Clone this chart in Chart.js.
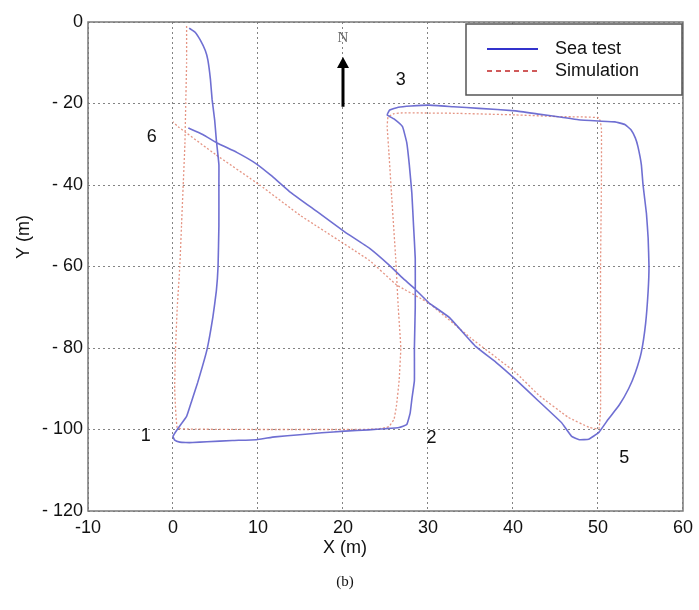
<!DOCTYPE html>
<html>
<head>
<meta charset="utf-8">
<script src="https://cdn.jsdelivr.net/npm/chart.js@4/dist/chart.umd.min.js"></script>
<style>
  body { margin: 0; background: #fff; }
  #wrap { width: 699px; height: 610px; }
</style>
</head>
<body>
<div id="wrap"><canvas id="trackChart" width="699" height="610"></canvas></div>
<script>
// sea test trajectory (m)
const seaX = [1.9, 2.6, 3.2, 3.8, 4.1, 4.4, 4.6, 4.9, 5.1, 5.4, 5.4, 5.4, 5.3, 5.1, 4.7, 4.0, 2.9, 2.2, 1.6, 0.5, 0,
    0.2, 0.8, 1.5, 2.3, 4, 7, 9.8, 12, 14.9, 17.5, 20.2, 23, 25, 26.6, 27.5,
    27.9, 28.1, 28.4, 28.4, 28.5, 28.5, 28.3, 28.1, 27.8, 27.5, 27, 26, 25.2,
    25.5, 26.5, 28, 30.1, 33, 36, 40.3, 43, 45.5, 47.7, 50, 52, 53.2,
    53.9, 54.4, 54.7, 55.1, 55.3, 55.7, 55.9, 56, 55.9, 55.6, 55.1, 54.4, 53.6, 52.5, 51.2, 50.1,
    48.9, 47.8, 46.9, 45.7, 43, 40.3, 38, 35.6, 32.5, 30.1, 28.4, 27, 25.4, 23.1, 20.2, 17, 13.7,
    11.5, 9.8, 7.5, 5.2, 3.5, 1.8];
const seaY = [-1.5, -2.5, -4.4, -7, -9.3, -14, -19, -24, -29, -35, -40, -50, -60, -66, -72.3, -80.4, -88.5, -93, -96.8, -100, -101.7,
    -102.6, -103.1, -103.2, -103.2, -103, -102.7, -102.5, -101.8, -101.3, -100.8, -100.4, -100.1, -99.8, -99.5, -98.8,
    -96, -92.6, -88, -80, -70, -58, -50, -42, -35, -29.6, -25.7, -23.8, -22.8,
    -21.6, -20.9, -20.6, -20.4, -20.8, -21.2, -21.8, -22.6, -23.3, -24, -24.3, -24.5, -25.2,
    -26.5, -28.5, -30.6, -35, -40, -47, -53, -60, -66, -74, -81, -86, -90, -94, -97.5, -100.7,
    -102.4, -102.5, -101.7, -98.3, -93, -87.7, -83.5, -79.6, -72.5, -68.9, -65.4, -62.8, -59.6, -55.5, -51.5, -46.6, -41.6,
    -37.6, -34.8, -32, -29.7, -27.6, -26];

// simulated trajectory (m)
const simX = [1.6, 1.6, 1.5, 1.4, 1.2, 1.0, 0.8, 0.5, 0.3, 0.2, 0.5, 2, 10, 20, 24, 25.4,
    26, 26.3, 26.6, 26.8, 26.5, 26.2, 25.7, 25.4, 25.2, 25.3, 26, 27, 33, 40.3, 45, 50.1,
    50.4, 50.4, 50.3, 50.3, 50.3, 50.1, 49, 46.5, 43, 40.3, 35, 30.1, 26.3, 23.1, 15, 10.2, 5, 0.6, 0];
const simY = [-1, -10, -20, -30, -40, -50, -60, -70, -80, -90, -99.6, -99.9, -100, -100, -99.9, -99.3,
    -97.5, -94, -88, -80, -70, -58, -42, -32, -25.7, -23.3, -22.5, -22.3, -22.4, -22.8, -23.2, -23.5,
    -26, -40, -60, -80, -95, -99.8, -99.5, -97, -91.5, -86, -77.5, -69, -64.5, -58.5, -47.5, -40, -32.5, -25.7, -24.5];

const seriesNames = ['Sea test', 'Simulation'];
const xTicks = [-10, 0, 10, 20, 30, 40, 50, 60];
const yTicks = [0, -20, -40, -60, -80, -100, -120];

// waypoint numbers, in data units
const waypointText = ['1', '2', '3', '4', '5', '6'];
const waypointX = [-3.2, 30.4, 26.8, 55.1, 53.1, -2.5];
const waypointY = [-101.5, -102, -14.2, -14.7, -107.1, -28.2];

function toPoints(xs, ys) {
    return xs.map((x, i) => ({ x: x, y: ys[i] }));
}

const FONT = '"Liberation Sans", Arial, sans-serif';

const decorPlugin = {
    id: 'decor',
    afterDraw(chart) {
        const ctx = chart.ctx;
        const area = chart.chartArea;
        const xs = chart.scales.x;
        const ys = chart.scales.y;
        ctx.save();

        // box round the axes
        ctx.strokeStyle = '#7a7a7a';
        ctx.lineWidth = 1.5;
        ctx.strokeRect(area.left, area.top, area.right - area.left, area.bottom - area.top);

        // waypoint numbers
        ctx.fillStyle = '#111';
        ctx.font = '18px ' + FONT;
        ctx.textAlign = 'center';
        ctx.textBaseline = 'middle';
        waypointText.forEach((t, i) => {
            ctx.fillText(t, xs.getPixelForValue(waypointX[i]), ys.getPixelForValue(waypointY[i]));
        });

        // north arrow
        const ax = xs.getPixelForValue(20);
        const aBottom = ys.getPixelForValue(-20.8);
        const aTop = ys.getPixelForValue(-8.6);
        ctx.strokeStyle = '#000';
        ctx.lineWidth = 3;
        ctx.beginPath();
        ctx.moveTo(ax, aBottom);
        ctx.lineTo(ax, aTop + 8);
        ctx.stroke();
        ctx.fillStyle = '#000';
        ctx.beginPath();
        ctx.moveTo(ax, aTop);
        ctx.lineTo(ax - 6, aTop + 11);
        ctx.lineTo(ax + 6, aTop + 11);
        ctx.closePath();
        ctx.fill();
        ctx.fillStyle = '#666';
        ctx.font = '15px "Liberation Serif", "DejaVu Serif", serif';
        ctx.fillText('N', ax, ys.getPixelForValue(-4));

        // legend box
        const lx = 466, ly = 24, lw = area.right - 466 - 1, lh = 71;
        ctx.fillStyle = '#fff';
        ctx.fillRect(lx, ly, lw, lh);
        ctx.strokeStyle = '#555';
        ctx.lineWidth = 1.5;
        ctx.strokeRect(lx, ly, lw, lh);
        const ds = chart.data.datasets;
        [49, 71].forEach((yy, i) => {
            ctx.strokeStyle = i === 0 ? '#3333cc' : '#d05a5a';
            ctx.lineWidth = 1.8;
            ctx.setLineDash(i === 0 ? [] : [5, 4]);
            ctx.beginPath();
            ctx.moveTo(487, yy);
            ctx.lineTo(538, yy);
            ctx.stroke();
            ctx.setLineDash([]);
            ctx.fillStyle = '#111';
            ctx.font = '18px ' + FONT;
            ctx.textAlign = 'left';
            ctx.fillText(ds[i].label, 555, yy);
        });

        // axis titles and caption
        ctx.fillStyle = '#111';
        ctx.textAlign = 'center';
        ctx.font = '18px ' + FONT;
        ctx.fillText('X (m)', 345, 548);
        ctx.save();
        ctx.translate(24, 237);
        ctx.rotate(-Math.PI / 2);
        ctx.fillText('Y (m)', 0, 0);
        ctx.restore();
        ctx.font = '15px "Liberation Serif", "DejaVu Serif", serif';
        ctx.fillText('(b)', 345, 582);

        ctx.restore();
    }
};

const gridStyle = {
    color: 'rgba(90,90,90,0.75)',
    lineWidth: 1,
    drawTicks: false
};

new Chart(document.getElementById('trackChart').getContext('2d'), {
    type: 'scatter',
    data: {
        datasets: [
            {
                label: seriesNames[0],
                data: toPoints(seaX, seaY),
                showLine: true,
                borderColor: 'rgba(95,95,205,0.9)',
                borderWidth: 1.6,
                pointRadius: 0,
                tension: 0.1
            },
            {
                label: seriesNames[1],
                data: toPoints(simX, simY),
                showLine: true,
                borderColor: 'rgba(225,130,110,0.85)',
                borderWidth: 1.3,
                borderDash: [2, 2],
                pointRadius: 0,
                tension: 0.1
            }
        ]
    },
    options: {
        responsive: false,
        animation: false,
        layout: { padding: { left: 0, right: 14, top: 22, bottom: 0 } },
        plugins: {
            legend: { display: false },
            tooltip: { enabled: false }
        },
        scales: {
            x: {
                type: 'linear',
                min: -10,
                max: 60,
                afterBuildTicks: scale => { scale.ticks = xTicks.map(v => ({ value: v })); },
                afterFit: scale => { scale.height = 99; },
                grid: gridStyle,
                border: { display: false, dash: [2, 3] },
                ticks: {
                    color: '#111',
                    padding: 6,
                    font: { family: FONT, size: 18 }
                }
            },
            y: {
                type: 'linear',
                min: -120,
                max: 0,
                afterBuildTicks: scale => { scale.ticks = yTicks.map(v => ({ value: v })); },
                afterFit: scale => { scale.width = 88; },
                grid: gridStyle,
                border: { display: false, dash: [2, 3] },
                ticks: {
                    color: '#111',
                    padding: 5,
                    font: { family: FONT, size: 18 },
                    callback: v => v < 0 ? '- ' + Math.abs(v) : String(v)
                }
            }
        }
    },
    plugins: [decorPlugin]
});
</script>
</body>
</html>
